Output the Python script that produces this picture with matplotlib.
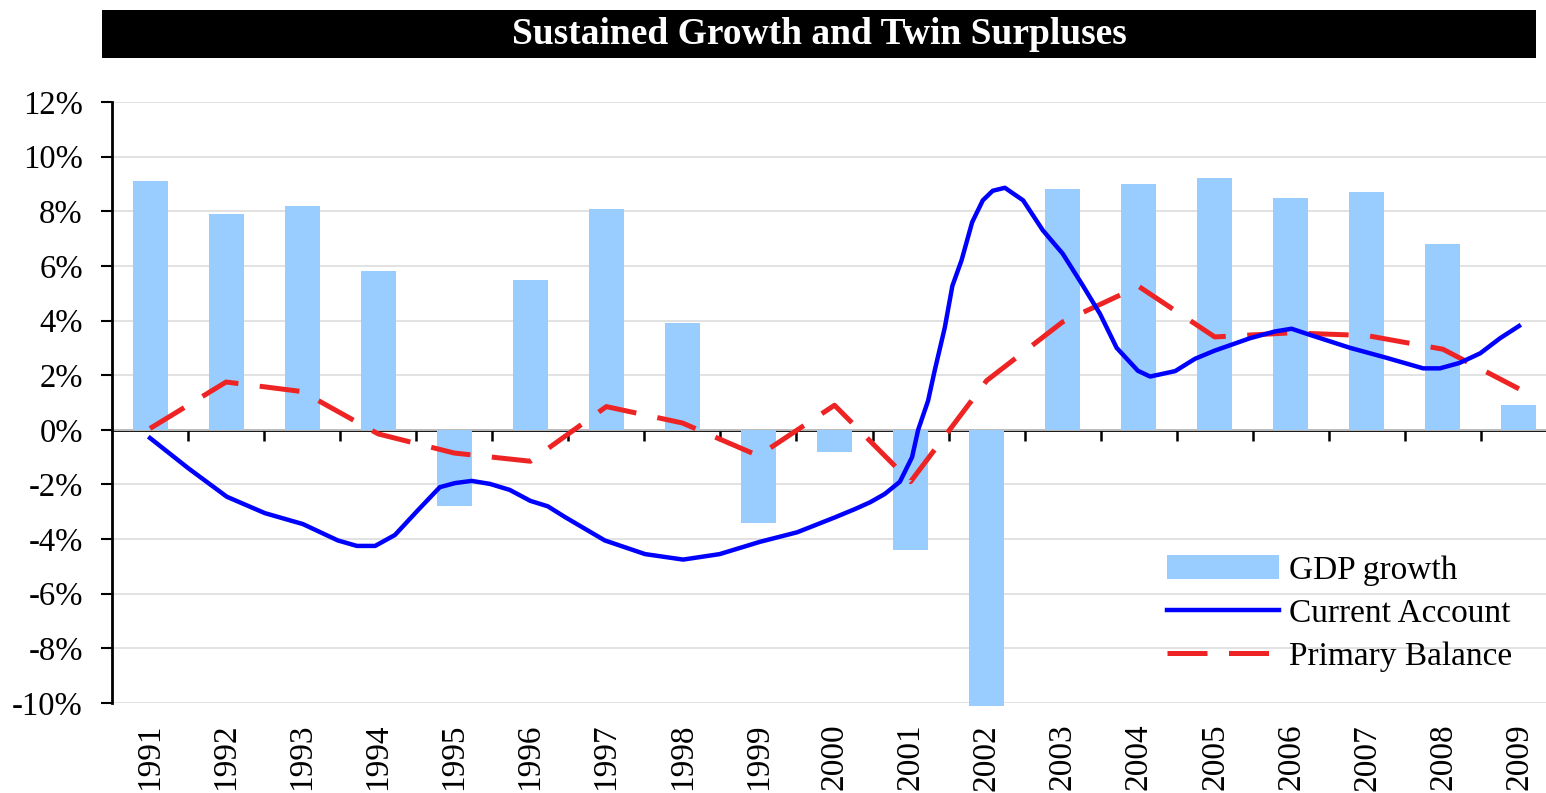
import matplotlib
matplotlib.use("Agg")
import matplotlib.pyplot as plt
from matplotlib.patches import Rectangle, Patch
from matplotlib.lines import Line2D

plt.rcParams['font.family'] = ['Liberation Serif', 'DejaVu Serif']

years = ["1991", "1992", "1993", "1994", "1995", "1996", "1997", "1998", "1999", "2000",
         "2001", "2002", "2003", "2004", "2005", "2006", "2007", "2008", "2009"]
gdp_growth = [9.1, 7.9, 8.2, 5.8, -2.8, 5.5, 8.1, 3.9, -3.4, -0.8,
              -4.4, -10.1, 8.8, 9.0, 9.2, 8.5, 8.7, 6.8, 0.9]
primary_balance = [0.05, 1.75, 1.4, -0.15, -0.85, -1.15, 0.85, 0.25, -0.95, 0.9,
                   -1.9, 1.8, 3.95, 5.25, 3.4, 3.55, 3.45, 2.95, 1.5]
# current account: position in years since 1991, value in %
ca_pos = [0.00, 0.50, 1.01, 1.51, 2.01, 2.24, 2.47, 2.72, 2.96, 3.22, 3.52, 3.81,
          4.01, 4.23, 4.47, 4.73, 5.00, 5.23, 5.46, 5.98, 6.51, 7.01, 7.49, 8.02,
          8.51, 9.01, 9.27, 9.47, 9.66, 9.86, 10.02, 10.10, 10.23, 10.32, 10.45,
          10.55, 10.67, 10.81, 10.95, 11.08, 11.24, 11.48, 11.74, 12.00, 12.25,
          12.49, 12.71, 12.99, 13.15, 13.48, 13.74, 14.00, 14.46, 14.79, 15.01,
          15.28, 15.78, 16.24, 16.74, 16.96, 17.22, 17.49, 17.75, 18.00]
ca_val = [-0.3, -1.4, -2.45, -3.05, -3.45, -3.75, -4.05, -4.25, -4.25, -3.85, -2.95, -2.1,
          -1.95, -1.87, -1.98, -2.2, -2.6, -2.8, -3.2, -4.05, -4.55, -4.75, -4.55, -4.1,
          -3.75, -3.2, -2.9, -2.65, -2.35, -1.9, -1.0, 0.0, 1.06, 2.2, 3.74,
          5.27, 6.2, 7.6, 8.4, 8.75, 8.86, 8.4, 7.3, 6.45, 5.35,
          4.25, 3.0, 2.16, 1.95, 2.15, 2.6, 2.9, 3.35, 3.6, 3.7,
          3.45, 3.0, 2.65, 2.25, 2.25, 2.45, 2.8, 3.35, 3.8]
yticks = [-10, -8, -6, -4, -2, 0, 2, 4, 6, 8, 10, 12]

W, H = 1546, 793
fig = plt.figure(figsize=(W / 100, H / 100), dpi=100)
ax = fig.add_axes([112 / W, (H - 703) / H, 1445 / W, 601 / H])

bar_color = '#99CCFF'
blue = '#0000FF'
red = '#EE2424'
fs = 24

x = list(range(len(years)))
ax.bar(x, gdp_growth, width=0.46, color=bar_color, zorder=2, clip_on=False)
ax.plot(ca_pos, ca_val, color=blue, lw=3.2, zorder=4, solid_joinstyle='round')
ax.plot(x, primary_balance, color=red, lw=3.6, dashes=(8, 4.3), zorder=3)

ax.set_xlim(-0.5, 18.5)
ax.set_ylim(-10, 12)
ax.set_yticks(yticks)
ax.set_yticklabels([f"{v}%" for v in yticks], fontsize=23.5)
ax.tick_params(axis='y', direction='out', length=8, width=1.5, pad=13)
ax.set_xticks(x)
ax.set_xticklabels(years, rotation=90, fontsize=fs)
ax.tick_params(axis='x', length=0, pad=15)
ax.yaxis.grid(True, color='#DDDDDD', lw=1.2)
ax.set_axisbelow(True)
for s in ['top', 'right', 'bottom']:
    ax.spines[s].set_visible(False)
ax.spines['left'].set_linewidth(2)

sec = ax.secondary_xaxis(10 / 22)
sec.set_xticks([i + 0.5 for i in range(len(years))])
sec.set_xticklabels([])
sec.tick_params(axis='x', direction='out', length=8, width=1.8)
sec.spines['bottom'].set_linewidth(2)

# title bar
fig.patches.append(Rectangle((102 / W, (H - 58) / H), 1434 / W, 48 / H,
                             transform=fig.transFigure, facecolor='black', edgecolor='none'))
fig.text(819 / W, (H - 35) / H, "Sustained Growth and Twin Surpluses", color='white',
         fontsize=27, fontweight='bold', ha='center', va='center')

handles = [Patch(facecolor=bar_color, edgecolor='none'),
           Line2D([], [], color=blue, lw=3.2),
           Line2D([], [], color=red, lw=3.6, dashes=(8, 4.3))]
labels = ["GDP growth", "Current Account", "Primary Balance"]
fig.legend(handles, labels, loc='upper left', bbox_to_anchor=(1167 / W, (H - 555) / H),
           frameon=False, fontsize=fs, handlelength=3.36, handletextpad=0.3,
           labelspacing=0.38, borderpad=0, borderaxespad=0)

fig.savefig("out.png", dpi=100)
